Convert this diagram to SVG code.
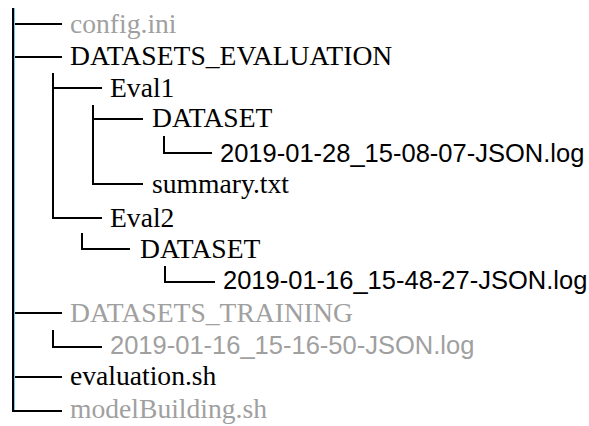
<svg xmlns="http://www.w3.org/2000/svg" width="589" height="426" viewBox="0 0 589 426">
<style>
.c{fill:none;stroke:#000;stroke-width:2}
.f{stroke:#7cc6ee;stroke-width:1;fill:none}
.s{font-family:"Liberation Serif","Times New Roman",serif;font-size:27.6px;fill:#000}
.n{font-family:"Liberation Sans",Arial,sans-serif;font-size:25.5px;fill:#000}
.g{fill:#a0a0a0}
</style>
<rect width="589" height="426" fill="#fff"/>
<g id="connectors">
<path class="c" d="M13 8V412M13 24H62M13 57H62M13 313H62M13 377H62M12 411H62"/>
<path class="f" d="M14.5 8V410"/>
<path class="c" d="M53 73V219M53 88H102M52 218H102"/>
<path class="c" d="M93 105V185M93 119H143M92 184H143"/>
<path class="c" d="M164 136V153H212"/>
<path class="c" d="M82 233V249H130"/>
<path class="c" d="M165 266V282H215"/>
<path class="c" d="M53 330V347H102"/>
</g>
<g id="config"><text class="s g" x="70" y="33">config.ini</text></g>
<g id="datasets_evaluation"><text class="s" x="70" y="65">DATASETS_EVALUATION</text></g>
<g id="eval1"><text class="s" x="110" y="97">Eval1</text></g>
<g id="eval1_dataset"><text class="s" x="152" y="127">DATASET</text></g>
<g id="log1"><text class="n" x="220" y="162">2019-01-28_15-08-07-JSON.log</text></g>
<g id="summary"><text class="s" x="152" y="193">summary.txt</text></g>
<g id="eval2"><text class="s" x="110" y="227">Eval2</text></g>
<g id="eval2_dataset"><text class="s" x="140" y="258">DATASET</text></g>
<g id="log2"><text class="n" x="223" y="289">2019-01-16_15-48-27-JSON.log</text></g>
<g id="datasets_training"><text class="s g" x="70" y="322">DATASETS_TRAINING</text></g>
<g id="log3"><text class="n g" x="110" y="354">2019-01-16_15-16-50-JSON.log</text></g>
<g id="evaluation"><text class="s" x="70" y="385">evaluation.sh</text></g>
<g id="modelbuilding"><text class="s g" x="70" y="418">modelBuilding.sh</text></g>
</svg>
